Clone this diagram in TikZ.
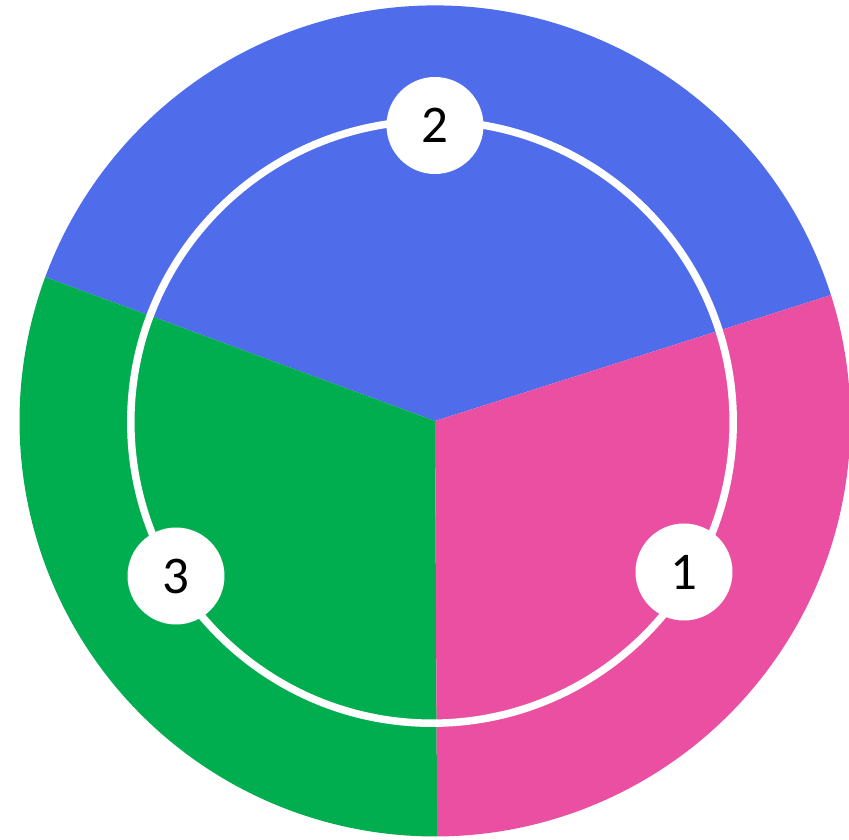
\documentclass[tikz,border=0pt]{standalone}
\usepackage{fontspec}
\setmainfont{Carlito}
\definecolor{cblue}{HTML}{4F6DEB}
\definecolor{cgreen}{HTML}{00AD4F}
\definecolor{cpink}{HTML}{EA4FA2}
\begin{document}
\begin{tikzpicture}[x=1pt,y=1pt,
  badge/.style={circle,fill=white,minimum size=97pt,inner sep=0pt,font=\fontsize{53}{53}\selectfont,text=black}]
\useasboundingbox (0,0) rectangle (849,839);
\clip (0,0) rectangle (849,839);
\coordinate (c) at (435,418);
\fill[cblue] (c) -- ++(17.65:415.5) arc[start angle=17.65,end angle=159.73,radius=415.5] -- cycle;
\fill[cgreen] (c) -- ++(159.73:415.5) arc[start angle=159.73,end angle=270.3,radius=415.5] -- cycle;
\fill[cpink] (c) -- ++(270.3:415.5) arc[start angle=270.3,end angle=377.65,radius=415.5] -- cycle;
\coordinate (rc) at (432,417);
\draw[white,line width=7.5pt] (rc) circle[radius=301.2];
\node[badge] (n2) at (435,713.5) {2};
\node[badge] (n1) at (684,267) {1};
\node[badge] (n3) at (176,263) {3};
\end{tikzpicture}
\end{document}
